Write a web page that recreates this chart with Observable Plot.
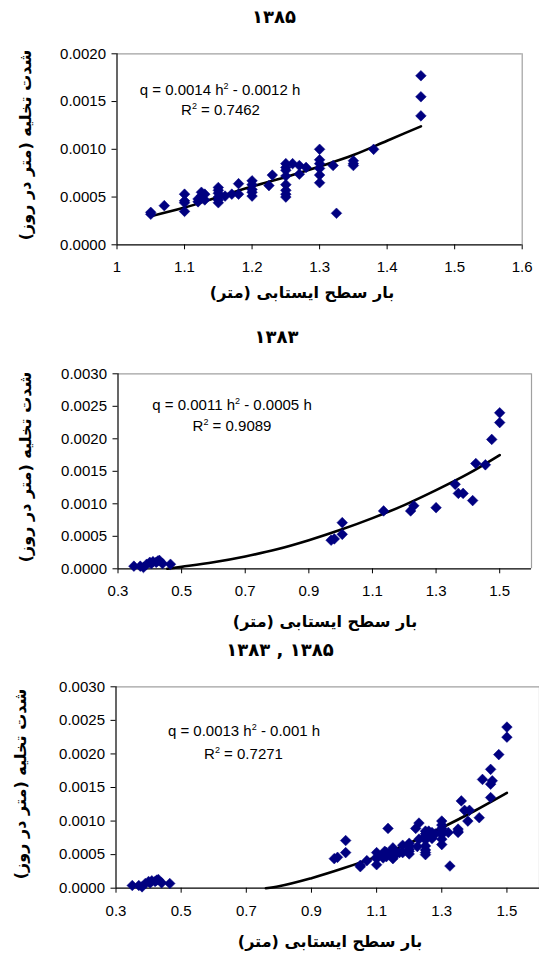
<!DOCTYPE html>
<html><head><meta charset="utf-8">
<script src="https://cdn.jsdelivr.net/npm/d3@7"></script>
<script src="https://cdn.jsdelivr.net/npm/@observablehq/plot@0.6"></script>
<style>
body{margin:0;background:#fff;}
#root{position:relative;width:539px;height:956px;overflow:hidden;background:#fff;}
#root svg{position:absolute;left:0;}
.abs{position:absolute;white-space:nowrap;line-height:1;}
.fa{font-family:"DejaVu Sans",sans-serif;font-weight:bold;color:#000;}
.eq{font-family:"Liberation Sans",Arial,sans-serif;font-size:15px;color:#000;}
</style></head><body><div id="root"></div>
<script>
// ---- data: 1385 (panel 1) ----
const h1385 = [1.05,1.05,1.07,1.10,1.10,1.10,1.10,1.12,1.12,1.125,1.125,1.13,1.13,
  1.15,1.15,1.15,1.15,1.15,1.15,1.16,1.17,1.18,1.18,1.20,1.20,1.20,1.20,1.20,1.225,1.23,
  1.25,1.25,1.25,1.25,1.25,1.25,1.25,1.25,1.26,1.27,1.27,1.28,
  1.30,1.30,1.30,1.30,1.30,1.30,1.32,1.325,1.35,1.35,1.35,1.38,1.45,1.45,1.45];
const q1385 = [0.00034,0.00032,0.00041,0.00053,0.00046,0.00044,0.00035,0.00045,0.00048,0.00055,0.00051,0.00053,0.00047,
  0.00060,0.00057,0.00054,0.00050,0.00047,0.00044,0.00051,0.00053,0.00064,0.00053,0.00067,0.00063,0.00058,0.00055,0.00051,0.00062,0.00073,
  0.00085,0.00081,0.00078,0.00072,0.00063,0.00057,0.00053,0.00050,0.00085,0.00083,0.00074,0.00081,
  0.00100,0.00089,0.00085,0.00080,0.00073,0.00065,0.00083,0.00033,0.00088,0.00085,0.00083,0.00100,0.00177,0.00155,0.00135];
// ---- data: 1383 (panel 2) ----
const h1383 = [0.35,0.37,0.38,0.39,0.40,0.405,0.41,0.42,0.425,0.43,0.44,0.465,
  0.97,0.98,1.005,1.005,1.135,1.22,1.23,1.30,1.36,1.37,1.385,1.415,1.425,1.455,1.475,1.50,1.50];
const q1383 = [0.00004,0.00004,0.00002,0.00007,0.00010,0.00008,0.00011,0.00010,0.00012,0.00013,0.00008,0.00007,
  0.00044,0.00046,0.00071,0.00053,0.00089,0.00089,0.00097,0.00094,0.00130,0.00116,0.00116,0.00105,0.00162,0.00160,0.00199,0.00240,0.00225];
// ---- trendlines ----
const trendH1385 = [1.05,1.10,1.15,1.20,1.25,1.30,1.35,1.40,1.45];
const trendQ1385 = [0.00030,0.00039,0.00050,0.00061,0.00071,0.00082,0.00094,0.00109,0.00124];
const trendH1383 = [0.455,0.5,0.6,0.7,0.8,0.9,1.0,1.1,1.2,1.3,1.4,1.5];
const trendQ1383 = [0,0.00003,0.00010,0.00019,0.00030,0.00044,0.00060,0.00078,0.00098,0.00121,0.00146,0.00175];
const trendHAll = [0.76,0.8,0.9,1.0,1.1,1.2,1.3,1.4,1.5];
const trendQAll = [0,0.00003,0.00015,0.00030,0.00047,0.00067,0.00090,0.00115,0.00142];
// ---- ticks and texts ----
const xTicks1 = [1,1.1,1.2,1.3,1.4,1.5,1.6];
const xTicks2 = [0.3,0.5,0.7,0.9,1.1,1.3,1.5];
const yTicks1 = [0,0.0005,0.001,0.0015,0.002];
const yTicks2 = [0,0.0005,0.001,0.0015,0.002,0.0025,0.003];
const titles = ["۱۳۸۵","۱۳۸۳","۱۳۸۳ , ۱۳۸۵"];
const xLabel = "بار سطح ایستابی (متر)";
const yLabel = "شدت تخلیه (متر در روز)";
const eqs = ["q = 0.0014 h<sup>2</sup> - 0.0012 h","q = 0.0011 h<sup>2</sup> - 0.0005 h","q = 0.0013 h<sup>2</sup> - 0.001 h"];
const r2s = ["R<sup>2</sup> = 0.7462","R<sup>2</sup> = 0.9089","R<sup>2</sup> = 0.7271"];

const root = document.getElementById("root");
const zip = (a,b) => a.map((v,i)=>({h:v,q:b[i]}));

function panel(o){
  const svg = Plot.plot({
    width:539, height:o.height,
    marginTop:o.mt, marginBottom:o.mb, marginLeft:o.ml, marginRight:o.mr,
    x:{domain:o.xd},
    y:{domain:o.yd},
    style:{fontFamily:"'Liberation Sans', Arial, sans-serif", fontSize:"15px", color:"#000", background:"transparent", overflow:"visible"},
    marks:[
      Plot.ruleY([o.yd[1]],{stroke:"#a0a0a0",strokeWidth:1.2}),
      Plot.ruleX([o.xd[1]],{stroke:"#a0a0a0",strokeWidth:1.2}),
      Plot.axisX({ticks:o.xt, tickSize:5, tickPadding:12, tickFormat:d=>String(d), label:null, stroke:"#000", strokeOpacity:1}),
      Plot.axisY({ticks:o.yt, tickSize:5, tickPadding:6, tickFormat:d3.format(".4f"), label:null, stroke:"#000", strokeOpacity:1}),
      Plot.ruleY([o.yd[0]],{stroke:"#000",strokeWidth:1.2}),
      Plot.ruleX([o.xd[0]],{stroke:"#000",strokeWidth:1.2}),
      Plot.line(zip(o.th,o.tq),{x:"h",y:"q",stroke:"#000",strokeWidth:2.6,curve:"monotone-x"}),
      Plot.dot(zip(o.h,o.q),{x:"h",y:"q",symbol:"diamond2",r:4.8,fill:"#000080",stroke:"#000080",strokeWidth:0.5})
    ]
  });
  svg.style.top = o.top + "px";
  root.appendChild(svg);
}
function txt(html, cls, cx, cy, size, rot){
  const d = document.createElement("div");
  d.className = "abs " + cls;
  d.innerHTML = html;
  d.style.left = cx + "px"; d.style.top = cy + "px";
  if (size) d.style.fontSize = size + "px";
  d.style.transform = "translate(-50%,-50%)" + (rot ? " rotate(-90deg)" : "");
  root.appendChild(d);
  return d;
}

panel({top:0,height:300,mt:53.3,mb:55.7,ml:116.5,mr:17.3,xd:[1,1.6],yd:[0,0.002],xt:xTicks1,yt:yTicks1,
  h:h1385,q:q1385,th:trendH1385,tq:trendQ1385});
panel({top:310,height:320,mt:63.3,mb:61.7,ml:117.5,mr:8,xd:[0.3,1.6],yd:[0,0.003],xt:xTicks2,yt:yTicks2,
  h:h1383,q:q1383,th:trendH1383,tq:trendQ1383});
panel({top:630,height:326,mt:56.3,mb:68.3,ml:115.5,mr:0,xd:[0.3,1.6],yd:[0,0.003],xt:xTicks2,yt:yTicks2,
  h:h1385.concat(h1383),q:q1385.concat(q1383),th:trendHAll,tq:trendQAll});

// titles
const tpos = [[274,17],[276.5,337],[280,649.5]];
titles.forEach((t,i)=>{ const d = txt(t,"fa",tpos[i][0],tpos[i][1],18); d.dir="ltr"; });
// x labels
[[302,293],[325,622],[330,942]].forEach(p=>{ const d = txt(xLabel,"fa",p[0],p[1],16); d.dir="rtl"; });
// y labels
[[26,145],[26,466.5],[21,784]].forEach(p=>{ const d = txt(yLabel,"fa",p[0],p[1],16,true); d.dir="rtl"; });
// equations
const epos = [[220,88.5,220.5,108.5],[232,404,232,425],[244,730,243.5,753]];
epos.forEach((p,i)=>{
  txt(eqs[i],"eq",p[0],p[1]);
  txt(r2s[i],"eq",p[2],p[3]);
});
document.querySelectorAll("sup").forEach(s=>{s.style.fontSize="9px";s.style.verticalAlign="6px";s.style.lineHeight="0";});
</script></body></html>
